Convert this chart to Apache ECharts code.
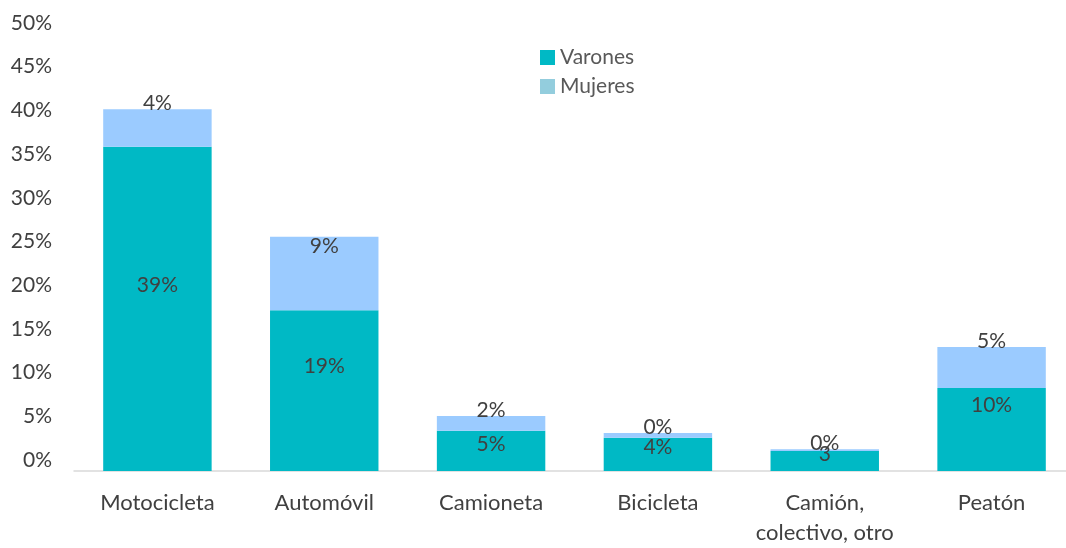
<!DOCTYPE html>
<html>
<head>
<meta charset="utf-8">
<script src="https://cdn.jsdelivr.net/npm/echarts@6/dist/echarts.min.js"></script>
<style>
  html, body { margin: 0; padding: 0; background: #fff; overflow: hidden; }
  /* plot area runs a few px past the right edge in the original */
  #chart { width: 1075px; height: 548px; }
</style>
</head>
<body>
<div id="chart"></div>
<script>
// data
var categories = ['Motocicleta', 'Automóvil', 'Camioneta', 'Bicicleta', 'Camión,\ncolectivo, otro', 'Peatón'];
var varones = [37.1, 18.4, 4.6, 3.8, 2.3, 9.5];
var mujeres = [4.3, 8.4, 1.7, 0.55, 0.2, 4.7];
// the printed labels (they don't match the bar heights in the original)
var varonesLabels = ['39%', '19%', '5%', '4%', '3', '10%'];
var mujeresLabels = ['4%', '9%', '2%', '0%', '0%', '5%'];

var textColor = '#404040';
var font = 'Lato';

var chart = echarts.init(document.getElementById('chart'));

var option = {
    animation: false,
    textStyle: { fontFamily: font },
    legend: {
        orient: 'vertical',
        left: 535,
        top: 42,
        icon: 'rect',
        itemWidth: 15,
        itemHeight: 15,
        itemGap: 8,
        textStyle: { color: '#595959', fontSize: 21, lineHeight: 21, fontFamily: font },
        data: [
            { name: 'Varones', itemStyle: { color: '#00B9C5' } },
            { name: 'Mujeres', itemStyle: { color: '#93CDDD' } }
        ]
    },
    grid: {
        top: 34,
        bottom: 77,
        left: 74,
        right: 0
    },
    xAxis: {
        type: 'category',
        data: categories,
        axisLine: { lineStyle: { color: '#d9d9d9', width: 1.5 } },
        axisTick: { show: false },
        axisLabel: {
            color: textColor,
            fontSize: 22,
            lineHeight: 30,
            margin: 17,
            interval: 0
        }
    },
    yAxis: {
        type: 'value',
        min: 0,
        max: 50,
        interval: 5,
        splitLine: { show: false },
        axisLine: { show: false },
        axisTick: { show: false },
        axisLabel: {
            color: textColor,
            fontSize: 21,
            margin: 22,
            verticalAlign: 'bottom',
            lineHeight: 22,
            formatter: '{value}%'
        }
    },
    series: [
        {
            name: 'Varones',
            type: 'bar',
            stack: 'total',
            barCategoryGap: '35%',
            itemStyle: { color: '#00B9C5' },
            label: {
                show: true,
                position: 'inside',
                color: textColor,
                fontSize: 21,
                formatter: function (p) { return varonesLabels[p.dataIndex]; }
            },
            data: varones.map(function (v) {
                return { value: v, label: { offset: [0, v > 8 ? -24 : -7] } };
            })
        },
        {
            name: 'Mujeres',
            type: 'bar',
            stack: 'total',
            barCategoryGap: '35%',
            itemStyle: { color: '#9BCBFF' },
            label: {
                show: true,
                position: 'top',
                distance: 0,
                verticalAlign: 'middle',
                color: textColor,
                fontSize: 21,
                formatter: function (p) { return mujeresLabels[p.dataIndex]; }
            },
            data: mujeres.map(function (v) {
                return { value: v, label: { offset: [0, v > 6 ? 9 : -6] } };
            })
        }
    ]
};

chart.setOption(option);

window.addEventListener('resize', function () {
    chart.resize();
});
</script>
</body>
</html>
